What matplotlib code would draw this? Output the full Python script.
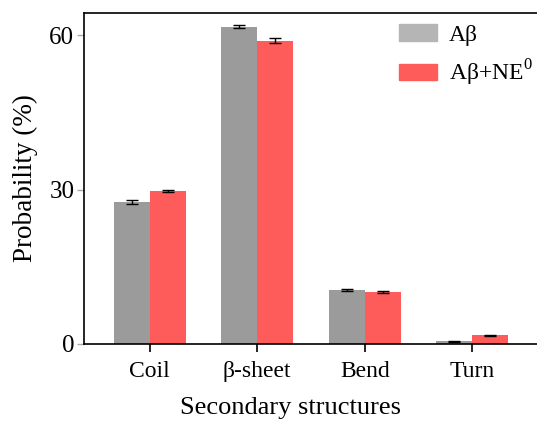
import matplotlib.pyplot as plt
import numpy as np
from matplotlib.patches import Patch

# Datos
categorias = ['Coil', 'β-sheet', 'Bend', 'Turn']
abeta = [27.6, 61.6, 10.5, 0.5]
abeta_err = [0.4, 0.3, 0.15, 0.1]
abeta_ne = [29.7, 58.9, 10.1, 1.7]
abeta_ne_err = [0.2, 0.5, 0.1, 0.1]
etiquetas = ['Aβ', 'Aβ+NE$^{0}$']

plt.rcParams['font.family'] = ['Liberation Serif', 'DejaVu Serif']
plt.rcParams['mathtext.fontset'] = 'custom'
plt.rcParams['mathtext.rm'] = 'Liberation Serif'

fig = plt.figure(figsize=(5.37, 4.33), dpi=100)
ax = fig.add_axes([84 / 537, 1 - 344 / 433, 1 - 84 / 537, (344 - 13) / 433])

x = np.arange(len(categorias))
ancho = 0.335
gris = '#9b9b9b'
rojo = '#fe5b5b'

ax.bar(x - ancho / 2, abeta, ancho, color=gris, yerr=abeta_err,
       error_kw=dict(ecolor='black', elinewidth=1, capsize=4, capthick=1))
ax.bar(x + ancho / 2, abeta_ne, ancho, color=rojo, yerr=abeta_ne_err,
       error_kw=dict(ecolor='black', elinewidth=1, capsize=4, capthick=1))

ax.set_xlim(-0.61, 3.6)
ax.set_ylim(0, 64.3)
ax.set_yticks([0, 30, 60])
ax.set_xticks(x)
ax.set_xticklabels(categorias)

ax.spines['right'].set_visible(False)
for s in ['left', 'top', 'bottom']:
    ax.spines[s].set_linewidth(1.2)

ax.tick_params(axis='x', direction='out', length=6, width=1.2, labelsize=17, pad=6)
ax.tick_params(axis='y', direction='out', length=5, width=1, color='#aaaaaa', labelsize=18, pad=2)

ax.set_xlabel('Secondary structures', fontsize=19)
ax.xaxis.set_label_coords((290 - 84) / (537 - 84), -0.16)
ax.set_ylabel('Probability (%)', fontsize=19.5, labelpad=8)

# Leyenda con parches propios (el gris de la leyenda es más claro)
handles = [Patch(color='#b5b5b5'), Patch(color=rojo)]
ax.legend(handles, etiquetas, loc='upper left', bbox_to_anchor=(399 / 537, 1 - 24 / 433),
          bbox_transform=fig.transFigure, frameon=False, fontsize=17,
          borderpad=0, borderaxespad=0, handlelength=1.6, handleheight=0.7,
          handletextpad=0.5, labelspacing=0.5)

plt.savefig('out.png', dpi=100)
plt.close(fig)
